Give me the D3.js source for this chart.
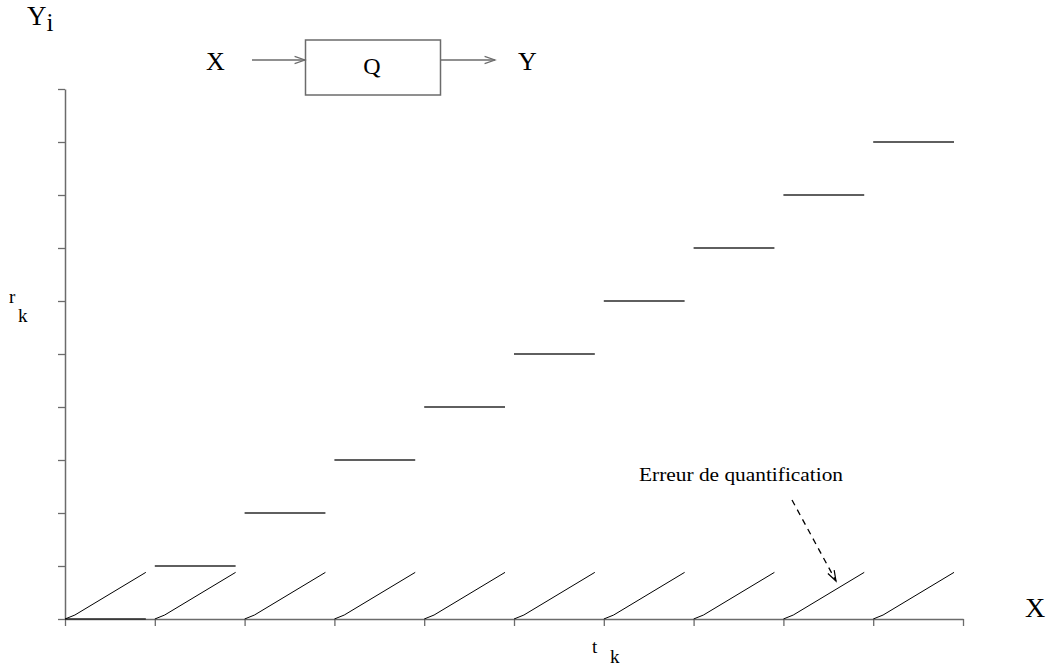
<!DOCTYPE html>
<html>
<head>
<meta charset="utf-8">
<script src="https://cdn.jsdelivr.net/npm/d3@7"></script>
<style>
  html, body { margin: 0; padding: 0; background: #fff; }
  svg { display: block; }
  text { font-family: "Liberation Serif", "DejaVu Serif", serif; fill: #000; }
</style>
</head>
<body>
<svg id="chart" width="1051" height="666"></svg>
<script>
// Quantizer staircase: input intervals t_k on X, output levels r_k on Y
const xTicks = [0, 1, 2, 3, 4, 5, 6, 7, 8, 9, 10];
const yTicks = [0, 1, 2, 3, 4, 5, 6, 7, 8, 9, 10];
const intervalStart = [0, 1, 2, 3, 4, 5, 6, 7, 8, 9];
const levelValue = [0, 1, 2, 3, 4, 5, 6, 7, 8, 9];
const levelWidth = 0.9;
// Quantization error over one interval (offset within interval, error)
const errorShape = [[0, 0], [0.11, 0.075], [0.9, 0.88]];

const svg = d3.select("#chart");
const x = d3.scaleLinear().domain([0, 10]).range([65, 963]);
const y = d3.scaleLinear().domain([0, 10]).range([619, 89]);

const axisColor = "#6b6b6b";

// Axes
const gx = svg.append("g")
  .attr("transform", `translate(0,${y(0)})`)
  .call(d3.axisBottom(x).tickValues(xTicks).tickSize(7).tickSizeOuter(0).tickFormat(""));
const gy = svg.append("g")
  .attr("transform", `translate(${x(0)},0)`)
  .call(d3.axisLeft(y).tickValues(yTicks).tickSize(7).tickSizeOuter(0).tickFormat(""));
[gx, gy].forEach(g => {
  g.select(".domain").attr("stroke", axisColor).attr("stroke-width", 1.5);
  g.selectAll(".tick line").attr("stroke", axisColor).attr("stroke-width", 1.3);
});

// Output levels
svg.append("g").selectAll("line")
  .data(intervalStart)
  .join("line")
  .attr("x1", (d) => x(d))
  .attr("x2", (d) => x(d + levelWidth))
  .attr("y1", (d, i) => y(levelValue[i]))
  .attr("y2", (d, i) => y(levelValue[i]))
  .attr("stroke", "#2a2a2a")
  .attr("stroke-width", 1.6);

// Quantization error ramps
const ramp = d3.line().x(p => p[0]).y(p => p[1]);
svg.append("g").selectAll("path")
  .data(intervalStart)
  .join("path")
  .attr("d", (d) => ramp(errorShape.map(([dx, e]) => [x(d + dx), y(e)])))
  .attr("fill", "none")
  .attr("stroke", "#000")
  .attr("stroke-width", 1);

// Axis labels
const yi = svg.append("text").attr("x", 27).attr("y", 25).attr("font-size", 27);
yi.append("tspan").text("Y");
yi.append("tspan").attr("font-size", 25).attr("dy", 6).text("i");

svg.append("text").attr("x", 1025).attr("y", 617).attr("font-size", 28).text("X");

svg.append("text").attr("x", 9).attr("y", 303).attr("font-size", 19).text("r");
svg.append("text").attr("x", 18).attr("y", 322).attr("font-size", 19).text("k");

svg.append("text").attr("x", 592).attr("y", 653).attr("font-size", 19).text("t");
svg.append("text").attr("x", 610).attr("y", 663).attr("font-size", 19).text("k");

// Block diagram X -> Q -> Y
const diag = svg.append("g");
diag.append("rect")
  .attr("x", 305.5).attr("y", 40).attr("width", 135).attr("height", 55)
  .attr("fill", "none").attr("stroke", axisColor).attr("stroke-width", 1.5);
diag.append("text").attr("x", 206).attr("y", 70).attr("font-size", 26).text("X");
diag.append("text").attr("x", 372).attr("y", 74).attr("font-size", 24).attr("text-anchor", "middle").text("Q");
diag.append("text").attr("x", 518).attr("y", 70).attr("font-size", 26).text("Y");

function openArrow(g, x1, y1, x2, y2, color, dash) {
  g.append("line").attr("x1", x1).attr("y1", y1).attr("x2", x2).attr("y2", y2)
    .attr("stroke", color).attr("stroke-width", 1.3).attr("stroke-dasharray", dash || null);
  const a = Math.atan2(y2 - y1, x2 - x1), L = 11, w = 0.33;
  g.append("path")
    .attr("d", `M${x2 - L * Math.cos(a - w)},${y2 - L * Math.sin(a - w)}L${x2},${y2}L${x2 - L * Math.cos(a + w)},${y2 - L * Math.sin(a + w)}`)
    .attr("fill", "none").attr("stroke", color).attr("stroke-width", 1.2);
}
openArrow(diag, 252, 60, 305, 60, axisColor);
openArrow(diag, 441, 60, 495, 60, axisColor);

// Annotation
svg.append("text").attr("x", 639).attr("y", 481).attr("font-size", 19.5)
  .attr("textLength", 204).attr("lengthAdjust", "spacingAndGlyphs")
  .text("Erreur de quantification");
openArrow(svg, 792, 500, 836, 581, "#000", "6,5");
</script>
</body>
</html>
